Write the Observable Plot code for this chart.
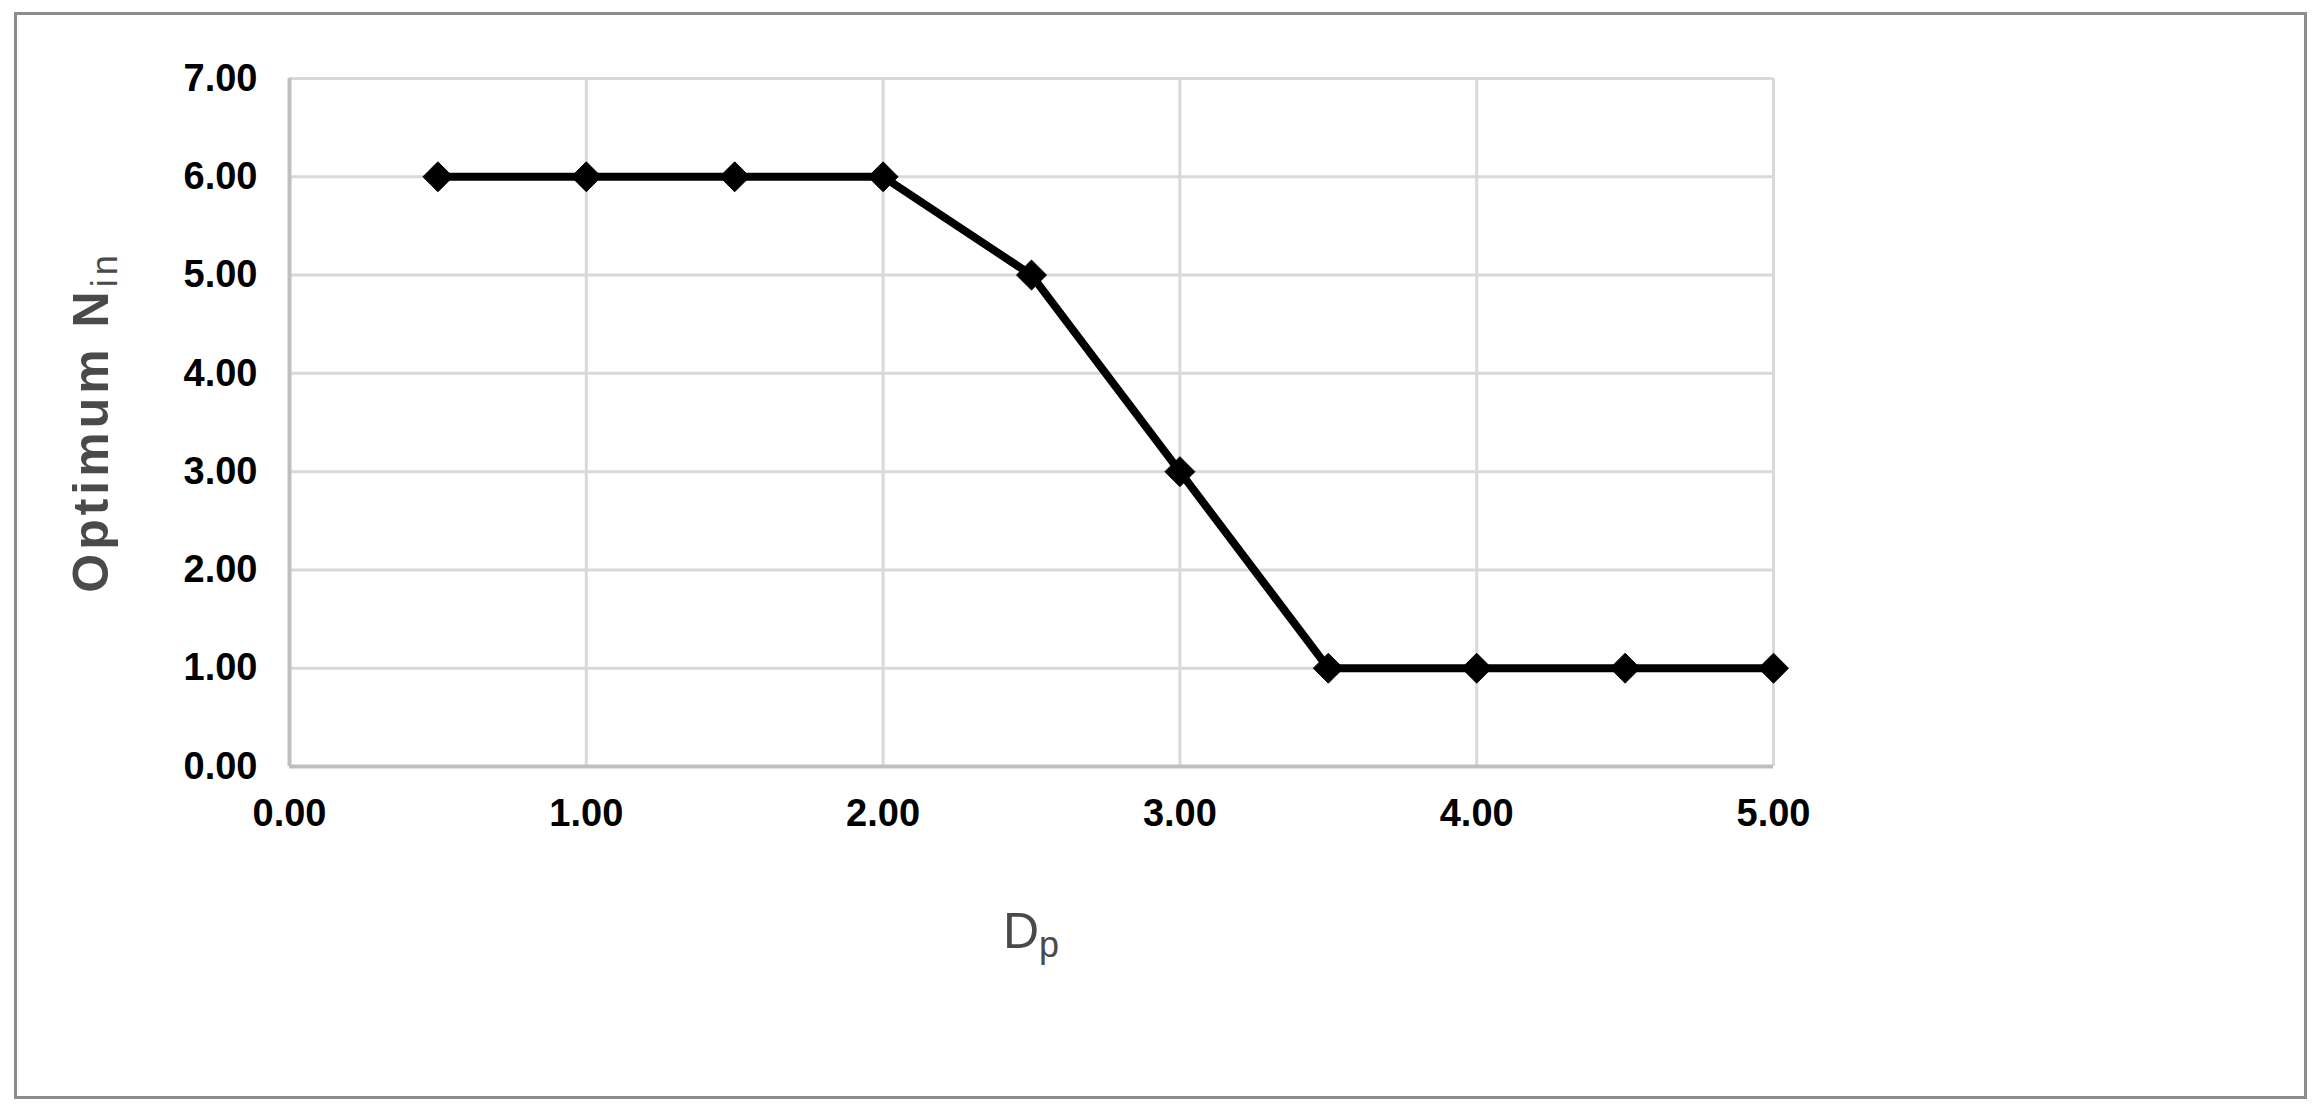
<!DOCTYPE html>
<html><head><meta charset="utf-8">
<script src="https://cdn.jsdelivr.net/npm/d3@7"></script>
<script src="https://cdn.jsdelivr.net/npm/@observablehq/plot@0.6"></script>
<style>
body{margin:0;background:#fff;}
#wrap{position:relative;width:2320px;height:1115px;overflow:hidden;}
#wrap svg{position:absolute;left:0;top:0;}
#frame{position:absolute;left:14px;top:12px;width:2293px;height:1087px;border:3px solid #8c8c8c;box-sizing:border-box;pointer-events:none;}
</style></head><body><div id="wrap"><div id="frame"></div></div>
<script>
const dp = [0.5, 1, 1.5, 2, 2.5, 3, 3.5, 4, 4.5, 5];
const nin = [6, 6, 6, 6, 5, 3, 1, 1, 1, 1];
const xTicks = [0, 1, 2, 3, 4, 5];
const yTicks = [0, 1, 2, 3, 4, 5, 6, 7];
const xTitle = "D", xSub = "p";
const yTitle = "Optimum N", ySub = "in";

const data = dp.map((x, i) => ({x, y: nin[i]}));
const fmt = d3.format(".2f");
const font = "'Liberation Sans', Arial, sans-serif";

const plot = Plot.plot({
  width: 2320, height: 1115,
  marginLeft: 289, marginRight: 547, marginTop: 78, marginBottom: 349,
  style: {fontFamily: font, background: "transparent", overflow: "visible"},
  x: {domain: [0, 5]},
  y: {domain: [0, 7]},
  marks: [
    Plot.gridX(xTicks, {stroke: "#d9d9d9", strokeWidth: 3, strokeOpacity: 1}),
    Plot.gridY(yTicks, {stroke: "#d9d9d9", strokeWidth: 3, strokeOpacity: 1}),
    Plot.ruleX([0], {stroke: "#bfbfbf", strokeWidth: 4}),
    Plot.ruleY([0], {stroke: "#bfbfbf", strokeWidth: 4}),
    Plot.axisX(xTicks, {tickSize: 0, tickPadding: 33, tickFormat: fmt, fontSize: 38, fontWeight: "bold", label: null, fill: "black"}),
    Plot.axisY(yTicks, {tickSize: 0, tickPadding: 32, tickFormat: fmt, fontSize: 38, fontWeight: "bold", label: null, fill: "black"}),
    Plot.line(data, {x: "x", y: "y", stroke: "black", strokeWidth: 8}),
    Plot.dot(data, {x: "x", y: "y", symbol: "diamond2", r: 13.5, fill: "black", stroke: "black", strokeWidth: 1})
  ]
});
document.getElementById("wrap").prepend(plot);

const sx = plot.scale("x"), sy = plot.scale("y");
const cx = (sx.apply(0) + sx.apply(5)) / 2;
const cy = (sy.apply(0) + sy.apply(7)) / 2;
const svg = d3.select(plot);

const xt = svg.append("text")
  .attr("x", cx).attr("y", sy.apply(0) + 182)
  .attr("text-anchor", "middle")
  .attr("font-family", font).attr("font-size", 50).attr("fill", "#4a4a4a");
xt.append("tspan").text(xTitle);
xt.append("tspan").attr("font-size", 36).attr("dy", 9).text(xSub);

const yt = svg.append("text")
  .attr("transform", `translate(108,${cy}) rotate(-90)`)
  .attr("text-anchor", "middle")
  .attr("font-family", font).attr("font-size", 50).attr("fill", "#4a4a4a")
  .attr("font-weight", 600)
  .attr("letter-spacing", 4);
yt.append("tspan").text(yTitle);
yt.append("tspan").attr("font-size", 36).attr("dy", 9).attr("font-weight", 400).text(ySub);
</script>
</body></html>
